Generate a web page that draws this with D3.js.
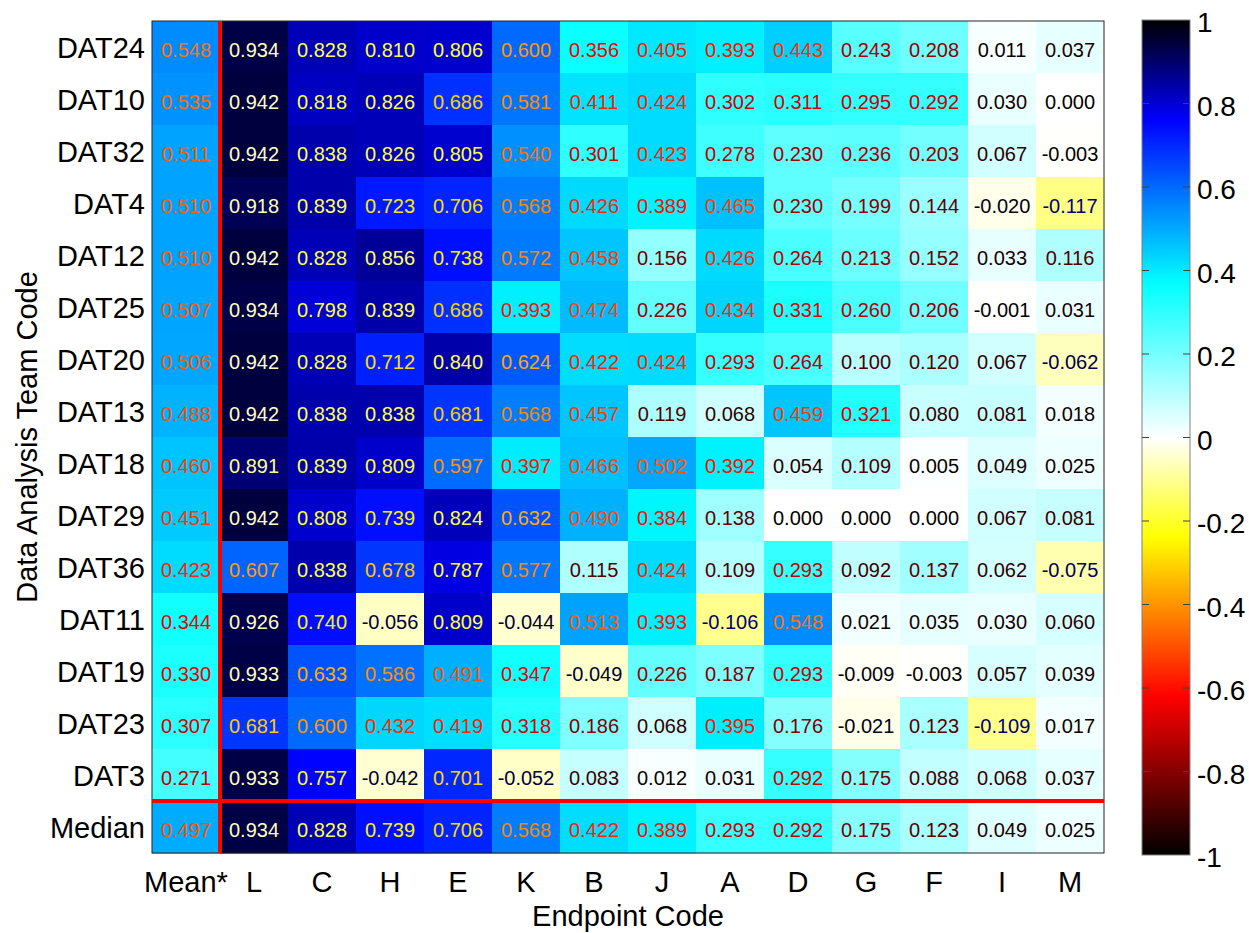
<!DOCTYPE html>
<html>
<head>
<meta charset="utf-8">
<script src="https://cdn.jsdelivr.net/npm/d3@7"></script>
<style>
  body { margin: 0; background: #fff; }
  text { font-family: "Liberation Sans", Arial, Helvetica, sans-serif; }
</style>
</head>
<body>
<div id="chart"></div>
<script>
// row and column names
var teams = ["DAT24", "DAT10", "DAT32", "DAT4", "DAT12", "DAT25", "DAT20", "DAT13",
             "DAT18", "DAT29", "DAT36", "DAT11", "DAT19", "DAT23", "DAT3", "Median"];
var endpoints = ["Mean*", "L", "C", "H", "E", "K", "B", "J", "A", "D", "G", "F", "I", "M"];

// one row per team, columns in the order of endpoints
var values = [
  [0.548, 0.934, 0.828, 0.810, 0.806, 0.600, 0.356, 0.405, 0.393, 0.443, 0.243, 0.208, 0.011, 0.037],
  [0.535, 0.942, 0.818, 0.826, 0.686, 0.581, 0.411, 0.424, 0.302, 0.311, 0.295, 0.292, 0.030, 0.000],
  [0.511, 0.942, 0.838, 0.826, 0.805, 0.540, 0.301, 0.423, 0.278, 0.230, 0.236, 0.203, 0.067, -0.003],
  [0.510, 0.918, 0.839, 0.723, 0.706, 0.568, 0.426, 0.389, 0.465, 0.230, 0.199, 0.144, -0.020, -0.117],
  [0.510, 0.942, 0.828, 0.856, 0.738, 0.572, 0.458, 0.156, 0.426, 0.264, 0.213, 0.152, 0.033, 0.116],
  [0.507, 0.934, 0.798, 0.839, 0.686, 0.393, 0.474, 0.226, 0.434, 0.331, 0.260, 0.206, -0.001, 0.031],
  [0.506, 0.942, 0.828, 0.712, 0.840, 0.624, 0.422, 0.424, 0.293, 0.264, 0.100, 0.120, 0.067, -0.062],
  [0.488, 0.942, 0.838, 0.838, 0.681, 0.568, 0.457, 0.119, 0.068, 0.459, 0.321, 0.080, 0.081, 0.018],
  [0.460, 0.891, 0.839, 0.809, 0.597, 0.397, 0.466, 0.502, 0.392, 0.054, 0.109, 0.005, 0.049, 0.025],
  [0.451, 0.942, 0.808, 0.739, 0.824, 0.632, 0.490, 0.384, 0.138, 0.000, 0.000, 0.000, 0.067, 0.081],
  [0.423, 0.607, 0.838, 0.678, 0.787, 0.577, 0.115, 0.424, 0.109, 0.293, 0.092, 0.137, 0.062, -0.075],
  [0.344, 0.926, 0.740, -0.056, 0.809, -0.044, 0.513, 0.393, -0.106, 0.548, 0.021, 0.035, 0.030, 0.060],
  [0.330, 0.933, 0.633, 0.586, 0.491, 0.347, -0.049, 0.226, 0.187, 0.293, -0.009, -0.003, 0.057, 0.039],
  [0.307, 0.681, 0.600, 0.432, 0.419, 0.318, 0.186, 0.068, 0.395, 0.176, -0.021, 0.123, -0.109, 0.017],
  [0.271, 0.933, 0.757, -0.042, 0.701, -0.052, 0.083, 0.012, 0.031, 0.292, 0.175, 0.088, 0.068, 0.037],
  [0.497, 0.934, 0.828, 0.739, 0.706, 0.568, 0.422, 0.389, 0.293, 0.292, 0.175, 0.123, 0.049, 0.025]
];

var colorTicks = [1, 0.8, 0.6, 0.4, 0.2, 0, -0.2, -0.4, -0.6, -0.8, -1];

var W = 1249, H = 933;
var plot = {left: 152, right: 1104, top: 21, bottom: 853};
var bar = {left: 1142, right: 1190, top: 20, bottom: 855};

// hot (negative) / cold (positive) colormap
var color = d3.scaleLinear()
  .domain([-1, -0.62, -0.24, 0, 0.37, 0.76, 1])
  .range(["#000000", "#ff0000", "#ffff00", "#ffffff", "#00ffff", "#0000ff", "#000000"])
  .interpolate(d3.interpolateRgb)
  .clamp(true);

// text is drawn in the inverse of its cell colour
function inverse(v) {
  var c = d3.rgb(color(v));
  return d3.rgb(255 - c.r, 255 - c.g, 255 - c.b).toString();
}

var svg = d3.select("#chart").append("svg")
  .attr("width", W)
  .attr("height", H);

var x = d3.scaleBand().domain(endpoints).range([plot.left, plot.right]).padding(0);
var y = d3.scaleBand().domain(teams).range([plot.top, plot.bottom]).padding(0);

var cells = [];
values.forEach(function(row, i) {
  row.forEach(function(v, j) {
    cells.push({team: teams[i], endpoint: endpoints[j], value: v});
  });
});

// cells
svg.append("g").selectAll("rect")
  .data(cells)
  .enter().append("rect")
  .attr("x", function(d) { return x(d.endpoint); })
  .attr("y", function(d) { return y(d.team); })
  .attr("width", x.bandwidth() + 0.5)
  .attr("height", y.bandwidth() + 0.5)
  .attr("fill", function(d) { return color(d.value); });

// cell values
svg.append("g").selectAll("text")
  .data(cells)
  .enter().append("text")
  .attr("x", function(d) { return x(d.endpoint) + x.bandwidth() / 2; })
  .attr("y", function(d) { return y(d.team) + y.bandwidth() / 2 + 10; })
  .attr("text-anchor", "middle")
  .style("font-size", "20px")
  .style("fill", function(d) { return inverse(d.value); })
  .text(function(d) { return d.value.toFixed(3); });

// plot box
svg.append("rect")
  .attr("x", plot.left).attr("y", plot.top)
  .attr("width", plot.right - plot.left).attr("height", plot.bottom - plot.top)
  .attr("fill", "none").attr("stroke", "#262626").attr("stroke-width", 1);

// red separators: after the Mean column and above the Median row
svg.append("line")
  .attr("x1", x("L")).attr("x2", x("L"))
  .attr("y1", plot.top).attr("y2", plot.bottom)
  .attr("stroke", "#ff0000").attr("stroke-width", 4);
svg.append("line")
  .attr("x1", plot.left).attr("x2", plot.right)
  .attr("y1", y("Median")).attr("y2", y("Median"))
  .attr("stroke", "#ff0000").attr("stroke-width", 4);

// row labels
svg.append("g").selectAll("text")
  .data(teams)
  .enter().append("text")
  .attr("x", plot.left - 7)
  .attr("y", function(d) { return y(d) + y.bandwidth() / 2 + 10.5; })
  .attr("text-anchor", "end")
  .style("font-size", "29px")
  .text(function(d) { return d; });

// column labels
svg.append("g").selectAll("text")
  .data(endpoints)
  .enter().append("text")
  .attr("x", function(d) { return x(d) + x.bandwidth() / 2; })
  .attr("y", 892)
  .attr("text-anchor", "middle")
  .style("font-size", "29px")
  .text(function(d) { return d; });

// axis titles
svg.append("text")
  .attr("x", (plot.left + plot.right) / 2)
  .attr("y", 926)
  .attr("text-anchor", "middle")
  .style("font-size", "29px")
  .text("Endpoint Code");

svg.append("text")
  .attr("transform", "translate(37," + ((plot.top + plot.bottom) / 2) + ") rotate(-90)")
  .attr("text-anchor", "middle")
  .style("font-size", "29px")
  .text("Data Analysis Team Code");

// colorbar
var c = d3.scaleLinear().domain([-1, 1]).range([bar.bottom, bar.top]);

var grad = svg.append("defs").append("linearGradient")
  .attr("id", "cbar")
  .attr("x1", 0).attr("y1", 1).attr("x2", 0).attr("y2", 0);
grad.selectAll("stop")
  .data(d3.range(0, 101))
  .enter().append("stop")
  .attr("offset", function(d) { return d + "%"; })
  .attr("stop-color", function(d) { return color(-1 + d / 50); });

svg.append("rect")
  .attr("x", bar.left).attr("y", bar.top)
  .attr("width", bar.right - bar.left).attr("height", bar.bottom - bar.top)
  .attr("fill", "url(#cbar)")
  .attr("stroke", "#808080").attr("stroke-width", 1);

var inner = colorTicks.filter(function(d) { return d !== 1 && d !== -1; });
svg.append("g").selectAll("line.l")
  .data(inner)
  .enter().append("line")
  .attr("x1", bar.left).attr("x2", bar.left + 7)
  .attr("y1", function(d) { return c(d); }).attr("y2", function(d) { return c(d); })
  .attr("stroke", "#404040");
svg.append("g").selectAll("line.r")
  .data(inner)
  .enter().append("line")
  .attr("x1", bar.right - 7).attr("x2", bar.right)
  .attr("y1", function(d) { return c(d); }).attr("y2", function(d) { return c(d); })
  .attr("stroke", "#404040");

svg.append("g").selectAll("text")
  .data(colorTicks)
  .enter().append("text")
  .attr("x", bar.right + 7)
  .attr("y", function(d) { return c(d) + 12; })
  .style("font-size", "28px")
  .text(function(d) { return String(d); });
</script>
</body>
</html>
